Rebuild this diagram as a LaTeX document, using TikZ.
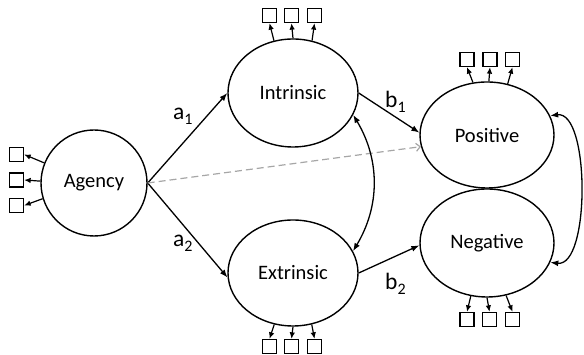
\documentclass[tikz,border=0pt]{standalone}
\usepackage{fontspec}
\setmainfont{Carlito}
\usetikzlibrary{shapes.geometric,arrows.meta}
\definecolor{dashgray}{HTML}{A6A6A6}
\newcommand{\lbl}[2]{#1\raisebox{-5pt}{\fontsize{16}{16}\selectfont #2}}
\begin{document}
\begin{tikzpicture}[x=1pt,y=1pt,
  latent/.style={draw, ellipse, line width=1.4pt, inner sep=0pt, font=\fontsize{20.5}{22}\selectfont},
  indbox/.style={draw, rectangle, line width=1.3pt, minimum size=14pt, inner sep=0pt},
  ind/.style={-{Latex[length=6.5pt,width=5.5pt]}, line width=1.2pt},
  path/.style={-{Latex[length=8pt,width=6pt]}, line width=1.3pt},
  cov/.style={{Latex[length=8pt,width=6pt]}-{Latex[length=8pt,width=6pt]}, line width=1.3pt},
  coef/.style={anchor=base west, inner sep=0pt, font=\fontsize{23.5}{24}\selectfont}
]
\useasboundingbox (0,0) rectangle (584,355);

% latent variables
\node[latent, minimum width=106pt, minimum height=106pt] (ag) at (94,172) {Agency};
\node[latent, minimum width=130pt, minimum height=108pt] (in) at (293,262) {Intrinsic};
\node[latent, minimum width=130pt, minimum height=106pt] (ex) at (293,82) {Extrinsic};
\node[latent, minimum width=134pt, minimum height=106pt] (po) at (487,220) {Positive};
\node[latent, minimum width=134pt, minimum height=108pt] (ne) at (487,112) {Negative};

% indicator boxes
\node[indbox] (ag1) at (16.5,200.5) {};
\node[indbox] (ag2) at (16.5,175) {};
\node[indbox] (ag3) at (16.5,149.5) {};

\node[indbox] (in1) at (269.5,339.5) {};
\node[indbox] (in2) at (291.5,339.5) {};
\node[indbox] (in3) at (314.5,339.5) {};

\node[indbox] (ex1) at (269.5,8.5) {};
\node[indbox] (ex2) at (291.5,8.5) {};
\node[indbox] (ex3) at (314.5,8.5) {};

\node[indbox] (po1) at (467,295.5) {};
\node[indbox] (po2) at (490,295.5) {};
\node[indbox] (po3) at (512.5,295.5) {};

\node[indbox] (ne1) at (467,35.5) {};
\node[indbox] (ne2) at (489.5,35.5) {};
\node[indbox] (ne3) at (512.5,35.5) {};

% indicator arrows
\draw[ind] (ag.158) -- (ag1.east);
\draw[ind] (ag.178) -- (ag2.east);
\draw[ind] (ag.197) -- (ag3.east);

\draw[ind] (in.110) -- (in1.south);
\draw[ind] (in.90) -- (in2.south);
\draw[ind] (in.70) -- (in3.south);

\draw[ind] (ex.250) -- (ex1.north);
\draw[ind] (ex.270) -- (ex2.north);
\draw[ind] (ex.290) -- (ex3.north);

\draw[ind] (po.105) -- (po1.south);
\draw[ind] (po.88) -- (po2.south);
\draw[ind] (po.68) -- (po3.south);

\draw[ind] (ne.253) -- (ne1.north);
\draw[ind] (ne.270) -- (ne2.north);
\draw[ind] (ne.290) -- (ne3.north);

% structural paths
\draw[path] (ag.east) -- (in.west);
\draw[path] (ag.east) -- (ex.184);
\draw[-{Straight Barb[length=4pt,width=8pt]}, dashgray, line width=1.2pt, dash pattern=on 7pt off 4pt] (ag.east) -- (po.190);
\draw[path] (in.east) -- (po.178);
\draw[path] (ex.east) -- (ne.182);

% covariances
\draw[cov] (in.-20) .. controls +(27,-45) and +(27,45) .. (ex.20);
\draw[cov] (po.17) .. controls +(40,5) and +(40,-5) .. (ne.-17);

% coefficient labels
\node[coef] (la1) at (173,235) {\lbl{a}{1}};
\node[coef] (la2) at (173,108) {\lbl{a}{2}};
\node[coef] (lb1) at (385,247) {\lbl{b}{1}};
\node[coef] (lb2) at (385,65) {\lbl{b}{2}};
\end{tikzpicture}
\end{document}
